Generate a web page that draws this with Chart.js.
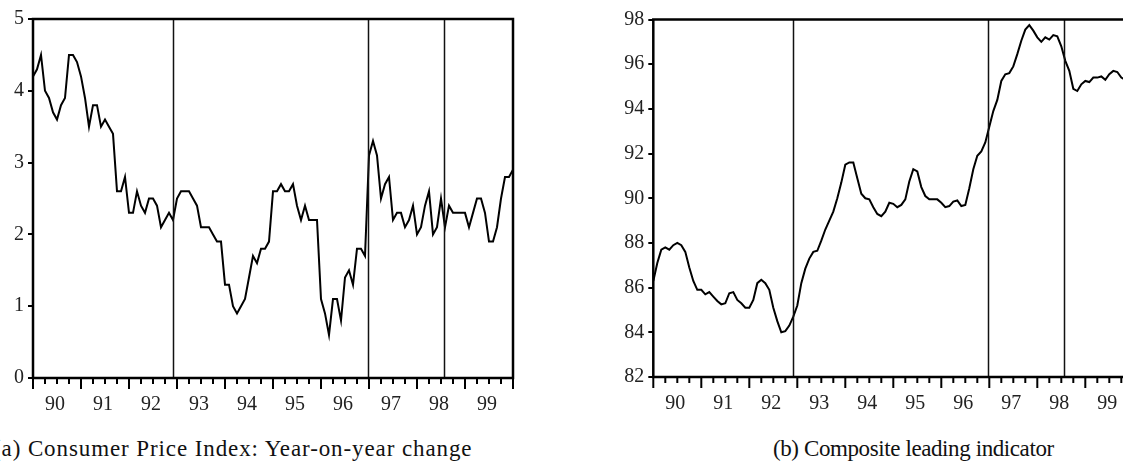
<!DOCTYPE html>
<html>
<head>
<meta charset="utf-8">
<script src="https://cdn.jsdelivr.net/npm/chart.js@4.4.1/dist/chart.umd.min.js"></script>
<style>
  html, body { margin: 0; padding: 0; width: 1123px; height: 473px; overflow: hidden; background: #fff; }
  .panel { position: absolute; top: 0; width: 560px; height: 420px; }
  #wrapA { left: 0; }
  #wrapB { left: 620px; }
  .cap { position: absolute; top: 436px; font-family: "Liberation Serif", "DejaVu Serif", serif; font-size: 23px; color: #111; white-space: nowrap; }
  #capA { left: -7px; letter-spacing: 0.9px; }
  #capB { left: 773px; letter-spacing: -0.4px; }
</style>
</head>
<body>
<div class="panel" id="wrapA"><canvas id="cA" width="560" height="420"></canvas></div>
<div class="panel" id="wrapB"><canvas id="cB" width="560" height="420"></canvas></div>
<div class="cap" id="capA">(a) Consumer Price Index: Year-on-year change</div>
<div class="cap" id="capB">(b) Composite leading indicator</div>
<script>
// ---- data (monthly, index 0 = 1990M1) ----
const yearLabels = ["90","91","92","93","94","95","96","97","98","99"];
const cpiChange = [
  4.2,4.3,4.5,4.0,3.9,3.7,3.6,3.8,3.9,4.5,4.5,4.4,
  4.2,3.9,3.5,3.8,3.8,3.5,3.6,3.5,3.4,2.6,2.6,2.8,
  2.3,2.3,2.6,2.4,2.3,2.5,2.5,2.4,2.1,2.2,2.3,2.2,
  2.5,2.6,2.6,2.6,2.5,2.4,2.1,2.1,2.1,2.0,1.9,1.9,
  1.3,1.3,1.0,0.9,1.0,1.1,1.4,1.7,1.6,1.8,1.8,1.9,
  2.6,2.6,2.7,2.6,2.6,2.7,2.4,2.2,2.4,2.2,2.2,2.2,
  1.1,0.9,0.6,1.1,1.1,0.8,1.4,1.5,1.3,1.8,1.8,1.7,
  3.1,3.3,3.1,2.5,2.7,2.8,2.2,2.3,2.3,2.1,2.2,2.4,
  2.0,2.1,2.4,2.6,2.0,2.1,2.5,2.1,2.4,2.3,2.3,2.3,
  2.3,2.1,2.3,2.5,2.5,2.3,1.9,1.9,2.1,2.5,2.8,2.8,
  2.9
];
const leadingIndicator = [
  86.3,87.1,87.7,87.8,87.7,87.9,88.0,87.9,87.6,86.9,86.3,85.9,
  85.9,85.7,85.8,85.6,85.4,85.25,85.3,85.75,85.8,85.45,85.3,85.1,
  85.1,85.45,86.2,86.35,86.2,85.9,85.1,84.5,84.0,84.05,84.3,84.7,
  85.2,86.2,86.85,87.3,87.6,87.65,88.1,88.6,89.0,89.4,90.0,90.7,
  91.5,91.6,91.6,90.9,90.2,90.0,89.95,89.6,89.3,89.2,89.4,89.8,
  89.75,89.6,89.7,89.95,90.75,91.3,91.2,90.5,90.1,89.95,89.95,89.95,
  89.8,89.6,89.65,89.85,89.9,89.65,89.7,90.45,91.3,91.9,92.1,92.5,
  93.2,93.9,94.4,95.25,95.55,95.6,95.9,96.45,97.05,97.55,97.75,97.5,
  97.2,97.0,97.2,97.1,97.3,97.25,96.8,96.15,95.7,94.9,94.8,95.1,
  95.25,95.2,95.4,95.4,95.45,95.3,95.55,95.7,95.65,95.4,95.3
];
// event dates as month index (0 = 1990M1)
const eventDates = [35, 83.75, 102.7];
const cpiTicks = [0,1,2,3,4,5];
const cliTicks = [82,84,86,88,90,92,94,96,98];

const FONT = "'Liberation Serif', 'DejaVu Serif', serif";
Chart.defaults.font.family = FONT;

const framePlugin = {
  id: 'frame',
  afterDatasetsDraw(chart) {
    const {ctx, chartArea: a, scales: {x}} = chart;
    ctx.save();
    ctx.strokeStyle = '#111';
    ctx.lineWidth = 1.5;
    eventDates.forEach(d => {
      const px = Math.round(x.getPixelForValue(d)) + 0.5;
      ctx.beginPath(); ctx.moveTo(px, a.top); ctx.lineTo(px, a.bottom); ctx.stroke();
    });
    ctx.lineWidth = 2.5;
    ctx.strokeStyle = '#000';
    ctx.strokeRect(a.left, a.top, a.right - a.left, a.bottom - a.top);
    ctx.lineWidth = 2;
    for (let m = 0; m <= yearLabels.length * 12; m += 3) {
      const px = x.getPixelForValue(m);
      if (px > chart.width) break;
      const len = (m % 12 === 0) ? 11 : 6;
      ctx.beginPath(); ctx.moveTo(px, a.bottom); ctx.lineTo(px, a.bottom + len); ctx.stroke();
    }
    ctx.restore();
  }
};

function makeChart(id, values, yMin, yMax, yTicks, pad) {
  const pts = values.map((v, i) => ({x: i, y: v}));
  return new Chart(document.getElementById(id), {
    type: 'line',
    data: { datasets: [{ data: pts, borderColor: '#000', borderWidth: 2, pointRadius: 0, tension: 0, fill: false }] },
    options: {
      responsive: false,
      animation: false,
      plugins: { legend: { display: false }, tooltip: { enabled: false } },
      layout: { padding: { left: 0, top: pad.top, right: 560 - pad.left - 480, bottom: 0 } },
      scales: {
        x: {
          type: 'linear', min: 0, max: yearLabels.length * 12,
          grid: { display: false },
          border: { display: false },
          afterBuildTicks: s => { s.ticks = yearLabels.map((l, k) => ({ value: 12 * k + 5.5 })); },
          afterFit: s => { s.height = 420 - pad.bottom; },
          ticks: {
            autoSkip: false, maxRotation: 0, padding: 7,
            color: '#222', font: { family: FONT, size: 20 },
            callback: (v, idx) => yearLabels[idx]
          }
        },
        y: {
          min: yMin, max: yMax,
          afterBuildTicks: s => { s.ticks = yTicks.map(v => ({ value: v })); },
          afterFit: s => { s.width = pad.left; },
          grid: { drawOnChartArea: false, drawTicks: true, tickLength: 5, color: '#000', lineWidth: 2 },
          border: { display: false },
          ticks: { padding: 4, color: '#222', font: { family: FONT, size: 20 } }
        }
      }
    },
    plugins: [framePlugin]
  });
}

function build() {
  makeChart('cA', cpiChange, 0, 5, cpiTicks, { left: 33, top: 19, bottom: 378 });
  makeChart('cB', leadingIndicator, 82, 98, cliTicks, { left: 33.3, top: 19.5, bottom: 377 });
}
if (document.fonts && document.fonts.load) {
  document.fonts.load("20px 'Liberation Serif'").then(build, build);
} else {
  build();
}
</script>
</body>
</html>
